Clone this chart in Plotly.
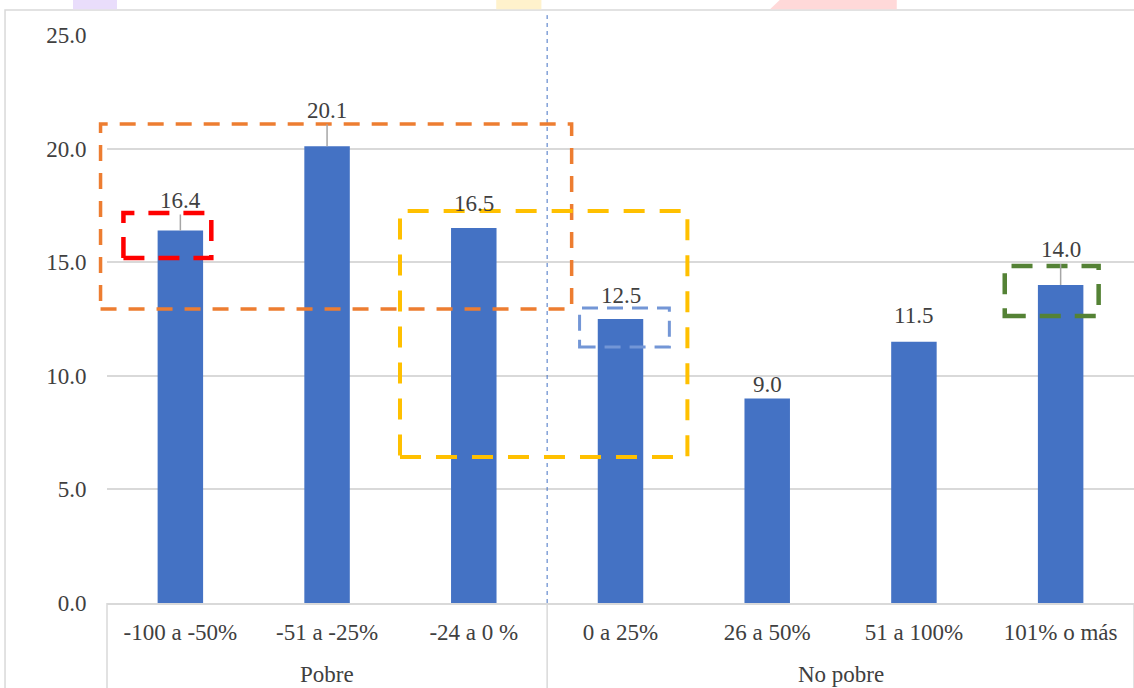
import plotly.graph_objects as go

# ---- data ----
categories = ["-100 a -50%", "-51 a -25%", "-24 a 0 %", "0 a 25%", "26 a 50%", "51 a 100%", "101% o más"]
groups = ["Pobre", "No pobre"]
group_sizes = [3, 4]
values = [16.4, 20.1, 16.5, 12.5, 9.0, 11.5, 14.0]
y_ticks = [0, 5, 10, 15, 20, 25]

# label placement (pixels above bar top) and whether a leader line is drawn
label_offsets_px = [30, 36, 25, 24, 14, 26, 35]
label_leader = [True, True, False, False, False, False, True]

FONT = "Liberation Serif"
TXT = "#404040"
BAR = "#4472C4"
FS = 23
X_RANGE = [-0.5, len(categories) - 0.5]
Y_RANGE = [0, 25]

fig = go.Figure()
fig.add_trace(go.Bar(
    x=list(range(len(categories))), y=values,
    marker=dict(color=BAR, line=dict(width=0)),
    width=0.31, hoverinfo="skip", showlegend=False,
))

# data labels
for i, v in enumerate(values):
    if label_leader[i]:
        fig.add_annotation(x=i, y=v, xref="x", yref="y", text=f"{v:.1f}",
                           showarrow=True, arrowhead=0, arrowwidth=1.5, arrowcolor="#a6a6a6",
                           ax=0, ay=-label_offsets_px[i],
                           font=dict(family=FONT, size=FS, color=TXT))
    else:
        fig.add_annotation(x=i, y=v, xref="x", yref="y", text=f"{v:.1f}",
                           showarrow=False, yanchor="middle", yshift=label_offsets_px[i],
                           font=dict(family=FONT, size=FS, color=TXT))

# group labels
start = 0
for g, n in zip(groups, group_sizes):
    mid = start + (n - 1) / 2
    fig.add_annotation(x=mid, y=-0.125, xref="x", yref="paper", text=g, showarrow=False,
                       yanchor="middle", font=dict(family=FONT, size=FS, color=TXT))
    start += n

# dividers of the category axis
boundary = group_sizes[0] - 0.5
div = dict(color="#d9d9d9", width=1.5)
fig.add_shape(type="line", xref="paper", yref="paper", x0=0, x1=0, y0=0, y1=-0.16, line=div)
fig.add_shape(type="line", xref="x", yref="paper", x0=boundary, x1=boundary, y0=0, y1=-0.16, line=div)
fig.add_shape(type="line", xref="paper", yref="paper", x0=1, x1=1, y0=0, y1=-0.16, line=div)

# vertical dashed separator
fig.add_shape(type="line", xref="x", yref="paper", x0=boundary, x1=boundary, y0=0, y1=1.035,
              line=dict(color="#4472C4", width=1, dash="4px,4px"))


def to_px(x):
    return (x - X_RANGE[0]) / (X_RANGE[1] - X_RANGE[0])


def to_py(y):
    return (y - Y_RANGE[0]) / (Y_RANGE[1] - Y_RANGE[0])


# dashed highlight boxes (given in data units, drawn unclipped in paper units)
boxes = [
    dict(x0=-0.544, x1=2.667, y0=12.94, y1=21.08, color="#ED7D31", w=3.5, dash="16px,12px"),
    dict(x0=-0.388, x1=0.211, y0=15.18, y1=17.17, color="#FF0000", w=4.5, dash="21px,14px"),
    dict(x0=1.497, x1=3.456, y0=6.43, y1=17.25, color="#FFC000", w=4, dash="21px,15px"),
    dict(x0=2.721, x1=3.333, y0=11.27, y1=12.98, color="#7396D6", w=3, dash="16px,9px"),
    dict(x0=5.619, x1=6.259, y0=12.63, y1=14.83, color="#548235", w=4.5, dash="21px,14px"),
]
for b in boxes:
    fig.add_shape(type="rect", xref="paper", yref="paper",
                  x0=to_px(b["x0"]), x1=to_px(b["x1"]), y0=to_py(b["y0"]), y1=to_py(b["y1"]),
                  line=dict(color=b["color"], width=b["w"], dash=b["dash"]), fillcolor="rgba(0,0,0,0)")

# chart-area border and faint background pieces at top
fig.add_shape(type="rect", xref="paper", yref="paper", x0=-0.0993, x1=1.01, y0=-0.2, y1=1.044,
              line=dict(color="#d9d9d9", width=1.5), layer="below")
fig.add_shape(type="rect", xref="paper", yref="paper", x0=-0.0331, x1=0.0097, y0=1.0455, y1=1.07,
              line=dict(width=0), fillcolor="#E9DDFB", layer="below")
fig.add_shape(type="rect", xref="paper", yref="paper", x0=0.379, x1=0.423, y0=1.0455, y1=1.07,
              line=dict(width=0), fillcolor="#FFF2CC", layer="below")
fig.add_shape(type="path", xref="paper", yref="paper",
              path="M 0.6456,1.0455 L 0.66,1.07 L 0.769,1.07 L 0.769,1.0455 Z",
              line=dict(width=0), fillcolor="#FFD9D9", layer="below")

fig.update_layout(
    width=1134, height=688,
    margin=dict(l=107, r=0, t=35, b=85),
    paper_bgcolor="white", plot_bgcolor="white",
    bargap=0.69,
    font=dict(family=FONT, size=FS, color=TXT),
    xaxis=dict(tickmode="array", tickvals=list(range(len(categories))), ticktext=categories,
               range=X_RANGE, showgrid=False, zeroline=False,
               showline=True, linecolor="#d9d9d9", linewidth=1.5,
               ticks="outside", ticklen=8, tickcolor="rgba(0,0,0,0)",
               tickfont=dict(family=FONT, size=FS, color=TXT)),
    yaxis=dict(range=Y_RANGE, tickvals=y_ticks, tickformat=".1f", showgrid=True,
               gridcolor="#d9d9d9", gridwidth=1.5, zeroline=False, showline=False,
               ticks="outside", ticklen=15, tickcolor="rgba(0,0,0,0)",
               tickfont=dict(family=FONT, size=FS, color=TXT)),
)

fig.write_html("out.html", config={"displayModeBar": False},
               post_script="document.body.style.margin='0';document.body.style.overflow='hidden';")
